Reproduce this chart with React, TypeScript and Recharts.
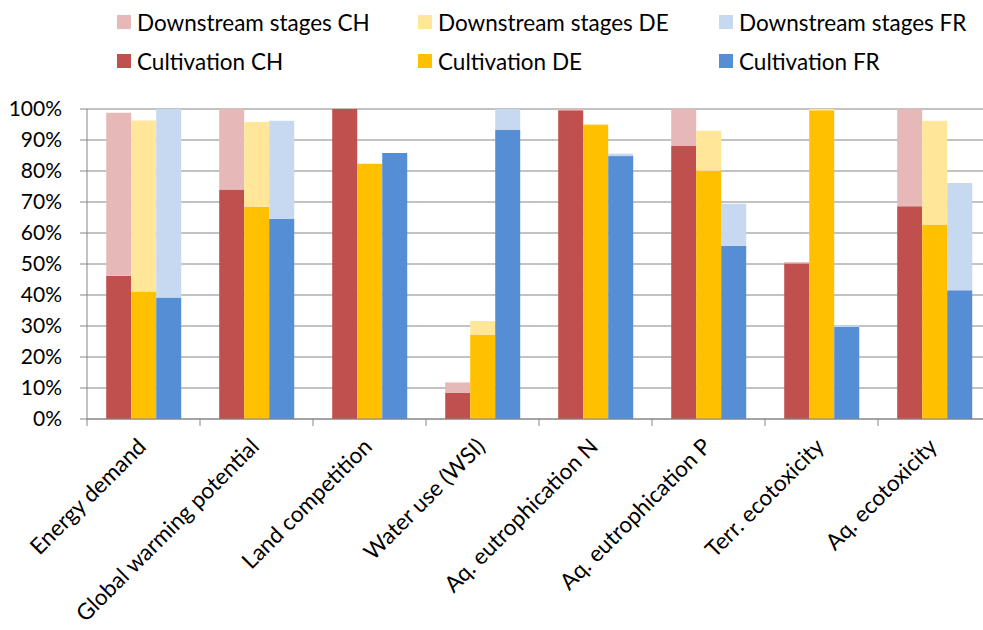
import React from 'react';
import { BarChart, Bar, XAxis, YAxis, CartesianGrid } from 'recharts';

// impact categories on the x axis
const categories = [
  'Energy demand',
  'Global warming potential',
  'Land competition',
  'Water use (WSI)',
  'Aq. eutrophication N',
  'Aq. eutrophication P',
  'Terr. ecotoxicity',
  'Aq. ecotoxicity',
];

// shares in % of the highest country per category
const cultivationCH = [46.2, 74.0, 100, 8.5, 99.6, 88.1, 50.2, 68.6];
const downstreamCH = [52.6, 26.0, 0, 3.3, 0.4, 11.9, 0.4, 31.4];
const cultivationDE = [41.1, 68.5, 82.3, 27.1, 94.8, 80.1, 99.6, 62.6];
const downstreamDE = [55.2, 27.3, 0, 4.5, 0.4, 12.9, 0.4, 33.6];
const cultivationFR = [39.2, 64.5, 85.8, 93.2, 84.8, 55.9, 29.7, 41.5];
const downstreamFR = [60.8, 31.7, 0, 6.8, 0.8, 13.5, 0.5, 34.6];

const yTicks = [0, 10, 20, 30, 40, 50, 60, 70, 80, 90, 100];

const data = categories.map((name, i) => ({
  name,
  cultCH: cultivationCH[i],
  downCH: downstreamCH[i],
  cultDE: cultivationDE[i],
  downDE: downstreamDE[i],
  cultFR: cultivationFR[i],
  downFR: downstreamFR[i],
}));

const COLORS = {
  cultCH: '#C0504D',
  downCH: '#E6B9B8',
  cultDE: '#FFC000',
  downDE: '#FFE699',
  cultFR: '#558ED5',
  downFR: '#C6D9F1',
};

const legendRows = [
  [
    { label: 'Downstream stages CH', color: COLORS.downCH },
    { label: 'Downstream stages DE', color: COLORS.downDE },
    { label: 'Downstream stages FR', color: COLORS.downFR },
  ],
  [
    { label: 'Cultivation CH', color: COLORS.cultCH },
    { label: 'Cultivation DE', color: COLORS.cultDE },
    { label: 'Cultivation FR', color: COLORS.cultFR },
  ],
];

const FONT = 'Lato, "Open Sans", sans-serif';
const CHART_W = 1000;
const PLOT_LEFT = 87;
const PLOT_RIGHT_MARGIN = 9;
const CAT_W = (CHART_W - PLOT_LEFT - PLOT_RIGHT_MARGIN) / categories.length;

const XTick = (props: any) => {
  const { x, y, payload } = props;
  const bx = x - CAT_W / 2;
  const tx = x + 4;
  const ty = y + 29;
  return (
    <g>
      <line x1={bx} y1={y} x2={bx} y2={y + 7} stroke="#868686" />
      <text
        x={tx}
        y={ty}
        textAnchor="end"
        fontSize={22.5}
        fill="#000"
        fontFamily={FONT}
        transform={`rotate(-45, ${tx}, ${ty})`}
      >
        {payload.value}
      </text>
    </g>
  );
};

export default function App() {
  return (
    <div
      style={{
        position: 'fixed',
        left: 0,
        top: 0,
        width: 983,
        height: 630,
        overflow: 'hidden',
        background: '#fff',
        fontFamily: FONT,
      }}
    >
      {legendRows.map((row, r) => (
        <div key={r} style={{ position: 'absolute', top: 8 + r * 39, left: 117, height: 28 }}>
          {row.map((item, c) => (
            <div
              key={item.label}
              style={{
                position: 'absolute',
                left: c * 301,
                top: 0,
                whiteSpace: 'nowrap',
                display: 'flex',
                alignItems: 'center',
                height: 28,
                fontSize: 22.5,
                color: '#000',
              }}
            >
              <span style={{ display: 'inline-block', width: 14, height: 14, background: item.color, marginRight: 6 }} />
              {item.label}
            </div>
          ))}
        </div>
      ))}
      <BarChart
        width={CHART_W}
        height={630}
        data={data}
        margin={{ top: 109, right: PLOT_RIGHT_MARGIN, bottom: 0, left: 0 }}
        barCategoryGap="17%"
        barGap={0}
      >
        <CartesianGrid vertical={false} stroke="#868686" />
        <YAxis
          width={PLOT_LEFT}
          domain={[0, 100]}
          ticks={yTicks}
          interval={0}
          tickFormatter={(v: number) => `${v}%`}
          tick={{ fontSize: 21, fill: '#000', fontFamily: FONT }}
          tickSize={7}
          tickMargin={18}
          stroke="#868686"
        />
        <XAxis
          dataKey="name"
          height={211}
          interval={0}
          tickSize={0}
          tickMargin={0}
          tickLine={false}
          stroke="#868686"
          tick={<XTick />}
        />
        <Bar dataKey="cultCH" stackId="CH" fill={COLORS.cultCH} isAnimationActive={false} />
        <Bar dataKey="downCH" stackId="CH" fill={COLORS.downCH} isAnimationActive={false} />
        <Bar dataKey="cultDE" stackId="DE" fill={COLORS.cultDE} isAnimationActive={false} />
        <Bar dataKey="downDE" stackId="DE" fill={COLORS.downDE} isAnimationActive={false} />
        <Bar dataKey="cultFR" stackId="FR" fill={COLORS.cultFR} isAnimationActive={false} />
        <Bar dataKey="downFR" stackId="FR" fill={COLORS.downFR} isAnimationActive={false} />
      </BarChart>
    </div>
  );
}
